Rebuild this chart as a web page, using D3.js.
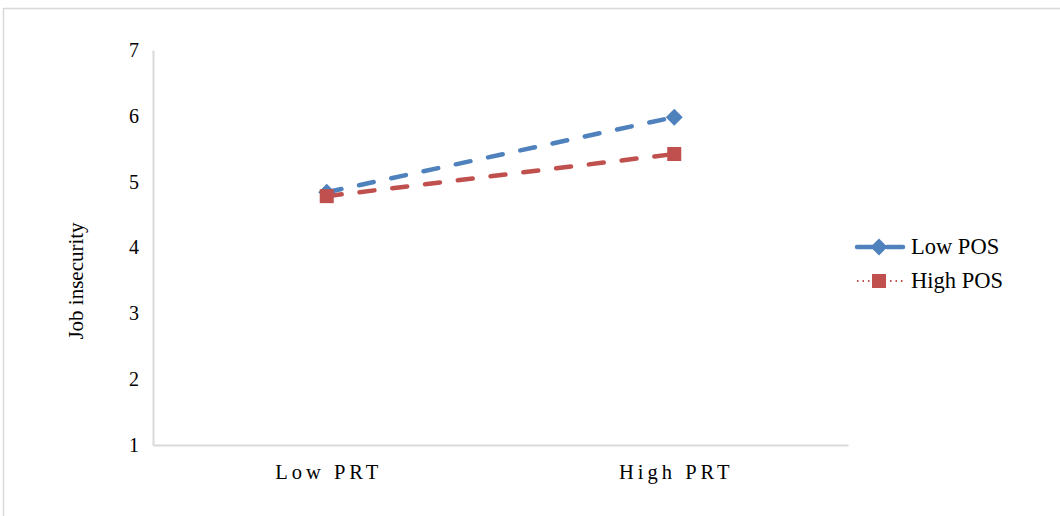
<!DOCTYPE html>
<html><head><meta charset="utf-8">
<script src="https://cdn.jsdelivr.net/npm/d3@7"></script>
<style>body{margin:0;background:#fff}svg{display:block}</style>
</head><body>
<svg id="c" width="1060" height="516"></svg>
<script>
const categories = ["Low PRT", "High PRT"];
const seriesNames = ["Low POS", "High POS"];
const lowPOS = [4.84, 5.98];
const highPOS = [4.78, 5.42];
const yTicks = [1, 2, 3, 4, 5, 6, 7];
const colors = ["#4f81bd", "#c0504d"];

(function () {
const svg = d3.select("#c");
const font = "'Liberation Serif','Times New Roman',serif";

svg.append("path").attr("d", "M3.5,516 V8.5 H1060").attr("fill", "none")
  .attr("stroke", "#d9d9d9").attr("stroke-width", 1.5);

const pl = 153, pr = 848, pt = 50, pb = 445;
const x = d3.scaleBand().domain(categories).range([pl, pr]);
const y = d3.scaleLinear().domain([1, 7]).range([pb, pt]);

const yAxis = svg.append("g").attr("transform", `translate(${pl},0)`)
  .call(d3.axisLeft(y).tickValues(yTicks).tickSize(0).tickPadding(14).tickFormat(d3.format("d")));
yAxis.select(".domain").attr("stroke", "#d9d9d9").attr("stroke-width", 2);
yAxis.selectAll("text").attr("font-family", font).attr("font-size", 20).attr("fill", "#000");

const xAxis = svg.append("g").attr("transform", `translate(0,${pb})`)
  .call(d3.axisBottom(x).tickSize(0).tickPadding(19));
xAxis.select(".domain").attr("stroke", "#d9d9d9").attr("stroke-width", 2);
xAxis.selectAll("text").attr("font-family", font).attr("font-size", 20.5)
  .attr("letter-spacing", "4px").attr("dx", "2").attr("fill", "#000");

svg.append("text").attr("transform", "translate(83,281) rotate(-90)")
  .attr("text-anchor", "middle").attr("font-family", font).attr("font-size", 21)
  .text("Job insecurity");

const data = [lowPOS, highPOS];
const line = d3.line().x((d, i) => x(categories[i]) + x.bandwidth() / 2).y(d => y(d));

data.forEach((s, k) => {
  svg.append("path").datum(s).attr("d", line).attr("fill", "none")
    .attr("stroke", colors[k]).attr("stroke-width", 4.5)
    .attr("stroke-dasharray", "15,18").attr("stroke-linecap", "round");
});

function marker(g, k, cx, cy) {
  if (k === 0) {
    g.append("rect").attr("x", -6).attr("y", -6).attr("width", 12).attr("height", 12)
      .attr("transform", `translate(${cx},${cy}) rotate(45)`).attr("fill", colors[0]);
  } else {
    g.append("rect").attr("x", cx - 7).attr("y", cy - 7).attr("width", 14).attr("height", 14)
      .attr("fill", colors[1]);
    g.append("path").attr("d", d3.symbol(d3.symbolX, 150)())
      .attr("transform", `translate(${cx},${cy})`).attr("fill", colors[1]);
  }
}

data.forEach((s, k) => {
  const g = svg.append("g");
  s.forEach((v, i) => marker(g, k, x(categories[i]) + x.bandwidth() / 2, y(v)));
});

seriesNames.forEach((n, k) => {
  const ly = 247 + k * 34;
  const g = svg.append("g");
  g.append("line").attr("x1", 857).attr("x2", 903).attr("y1", ly).attr("y2", ly)
    .attr("stroke", colors[k])
    .attr("stroke-width", k === 0 ? 4.5 : 2.2)
    .attr("stroke-dasharray", k === 0 ? "22,8" : "1.5,4")
    .attr("stroke-linecap", k === 0 ? "round" : "butt");
  marker(g, k, 879, ly);
  g.append("text").attr("x", 911).attr("y", ly + 7).attr("font-family", font)
    .attr("font-size", 22.5).text(n);
});
})();
</script>
</body></html>
